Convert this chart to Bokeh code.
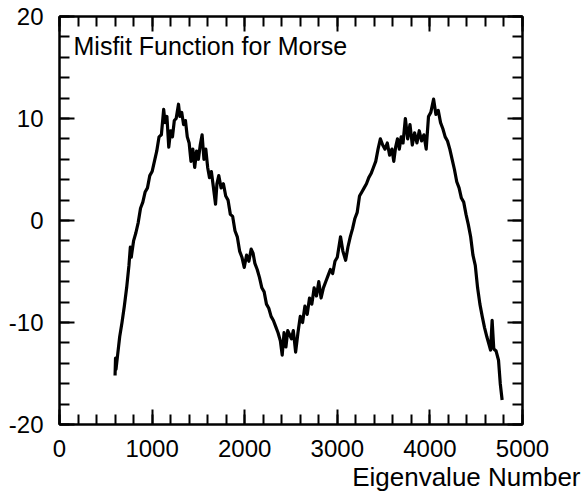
from bokeh.plotting import figure
from bokeh.models import LinearAxis, SingleIntervalTicker, Label, Title, CustomJSTickFormatter, Range1d
from bokeh.embed import file_html
from bokeh.resources import INLINE

# Misfit curve (eigenvalue number, misfit)
eig_x = [600, 605, 610, 625, 650, 675, 700, 725, 750, 765, 775, 800, 825, 850, 875, 900,
         925, 950, 975, 1000, 1025, 1050, 1075, 1100, 1125, 1140, 1160, 1180, 1200, 1220,
         1240, 1260, 1285, 1300, 1320, 1340, 1360, 1380, 1400, 1420, 1440, 1460, 1480,
         1500, 1520, 1540, 1560, 1580, 1600, 1620, 1640, 1660, 1685, 1700, 1720, 1745,
         1770, 1795, 1820, 1845, 1870, 1895, 1920, 1945, 1970, 1995, 2020, 2045, 2070,
         2090, 2110, 2135, 2160, 2185, 2210, 2235, 2260, 2285, 2310, 2335, 2360, 2385,
         2405, 2425, 2445, 2465, 2485, 2505, 2525, 2550, 2575, 2600, 2625, 2650, 2675,
         2700, 2725, 2750, 2775, 2800, 2825, 2850, 2875, 2900, 2925, 2950, 2975, 3000,
         3035, 3060, 3090, 3115, 3140, 3165, 3190, 3215, 3240, 3265, 3290, 3315, 3340,
         3365, 3390, 3415, 3440, 3465, 3490, 3515, 3540, 3565, 3590, 3610, 3630, 3650,
         3670, 3690, 3710, 3735, 3760, 3785, 3810, 3835, 3860, 3885, 3910, 3935, 3960,
         3985, 4010, 4040, 4065, 4090, 4115, 4140, 4165, 4190, 4215, 4240, 4265, 4290,
         4315, 4340, 4365, 4390, 4415, 4440, 4465, 4490, 4515, 4540, 4565, 4590, 4615,
         4640, 4655, 4672, 4690, 4715, 4741, 4760, 4780]
misfit = [-15.2, -13.5, -14.6, -13.4, -11.4, -10.0, -8.4, -6.6, -4.4, -2.6, -3.6, -2.0,
          -1.2, -0.2, 1.2, 1.8, 2.8, 3.2, 4.4, 4.8, 5.8, 6.8, 8.2, 8.4, 10.9, 9.6, 10.2,
          7.2, 8.8, 8.2, 9.8, 10.0, 11.4, 10.2, 10.6, 9.4, 9.8, 8.2, 7.6, 5.8, 7.0, 5.2,
          6.8, 6.0, 7.4, 8.4, 6.0, 7.0, 5.2, 4.2, 4.8, 3.4, 1.6, 3.6, 4.4, 3.2, 3.6, 2.4,
          2.0, 0.6, 0.4, -1.0, -1.6, -3.0, -3.6, -4.6, -3.4, -4.0, -2.8, -3.2, -4.2, -4.8,
          -5.6, -6.6, -7.0, -8.2, -8.6, -9.4, -9.8, -10.4, -11.0, -11.8, -13.2, -11.0,
          -12.4, -10.8, -11.2, -11.6, -10.8, -12.9, -11.0, -9.4, -10.0, -8.4, -9.2, -7.6,
          -8.2, -6.6, -7.4, -6.0, -7.6, -6.6, -6.0, -5.4, -4.8, -5.2, -4.0, -3.6, -1.6,
          -3.0, -3.9, -2.6, -1.6, -0.8, 0.2, 0.8, 2.4, 2.8, 3.2, 3.6, 4.2, 4.6, 5.2, 5.8,
          7.0, 8.0, 7.4, 7.0, 7.6, 6.4, 7.0, 5.8, 7.2, 8.0, 7.0, 8.2, 7.6, 10.0, 8.0, 9.4,
          7.4, 8.6, 7.6, 8.8, 7.8, 8.4, 7.0, 10.2, 10.6, 11.9, 10.4, 10.8, 9.6, 9.0, 8.2,
          7.8, 7.0, 6.0, 5.0, 3.8, 3.2, 2.2, 1.8, 0.6, -0.4, -1.6, -3.4, -4.4, -6.6, -8.2,
          -9.4, -10.5, -11.4, -12.2, -12.7, -9.8, -12.6, -12.8, -13.7, -16.0, -17.6]

x_tick_step = 1000
y_tick_step = 10
y_ticks = [-20, -10, 0, 10, 20]
y_tick_labels = ["-20", "-10", "0", "10", "20"]
title_text = "Misfit Function for Morse"
x_label_text = "Eigenvalue Number"

FONT = "Liberation Sans"

p = figure(width=586, height=493, output_backend="svg", toolbar_location=None,
           x_range=Range1d(0, 5000), y_range=Range1d(-20, 20),
           min_border_left=59, min_border_right=64, min_border_top=16, min_border_bottom=69,
           x_axis_location=None, y_axis_location=None)
p.xgrid.visible = False
p.ygrid.visible = False
p.outline_line_color = "black"
p.outline_line_width = 2
p.background_fill_color = "white"
p.border_fill_color = "white"

def style(ax, step, labels=True, overrides=None):
    ax.ticker = SingleIntervalTicker(interval=step, num_minor_ticks=5)
    ax.axis_line_color = "black"
    ax.axis_line_width = 2
    ax.major_tick_line_width = 2
    ax.minor_tick_line_width = 2
    ax.major_tick_in = 15
    ax.major_tick_out = 0
    ax.minor_tick_in = 10
    ax.minor_tick_out = 0
    ax.major_label_text_font = FONT
    ax.major_label_text_font_size = "24px"
    ax.major_label_text_color = "black"
    if labels:
        if overrides:
            ax.major_label_overrides = overrides
    else:
        ax.formatter = CustomJSTickFormatter(code="return ''")
        ax.major_label_standoff = 0

left = LinearAxis()
style(left, y_tick_step, overrides={t: s for t, s in zip(y_ticks, y_tick_labels)})
left.major_label_standoff = 16
p.add_layout(left, "left")

bottom = LinearAxis()
style(bottom, x_tick_step)
bottom.major_label_standoff = 15
p.add_layout(bottom, "below")

right = LinearAxis()
style(right, y_tick_step, labels=False)
p.add_layout(right, "right")

top = LinearAxis()
style(top, x_tick_step, labels=False)
p.add_layout(top, "above")

p.line(eig_x, misfit, line_color="black", line_width=3.2, line_join="round")

p.add_layout(Label(x=14, y=379, x_units="screen", y_units="screen", text=title_text,
                   text_font=FONT, text_font_size="25px", text_color="black",
                   text_align="left", text_baseline="alphabetic"))

xlabel = Title(text=x_label_text, align="right", offset=-58, standoff=0,
               text_font=FONT, text_font_size="26px", text_font_style="normal",
               text_color="black")
p.add_layout(xlabel, "below")

open("out.html", "w").write(file_html(p, INLINE))
